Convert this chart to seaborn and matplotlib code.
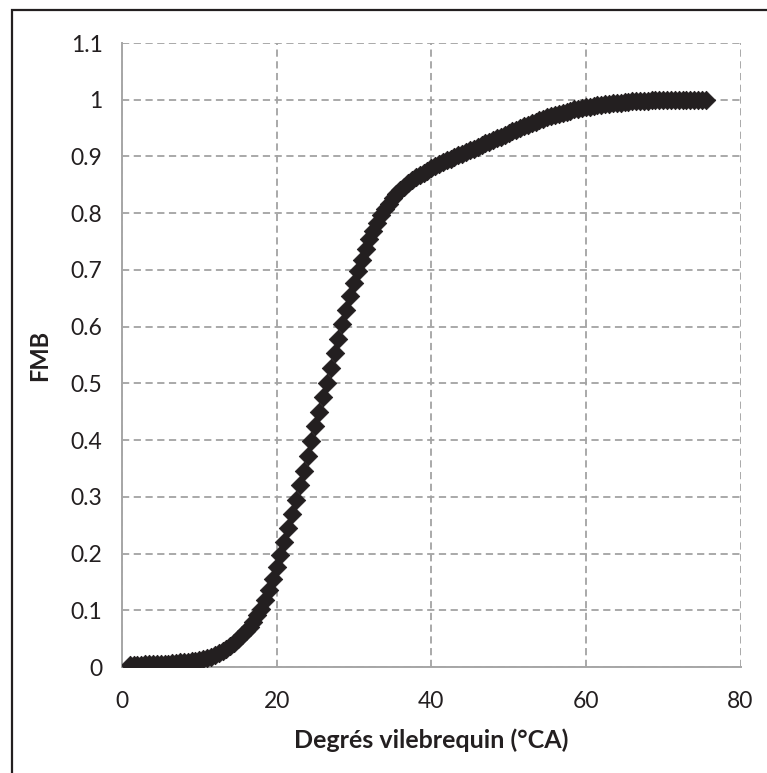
import matplotlib
matplotlib.use("Agg")
import matplotlib.pyplot as plt
from matplotlib.patches import Rectangle
import seaborn as sns
import pandas as pd

# Crank angle (degrees) and mass fraction burned
crank_angle = [
    1.0, 1.5, 2.0, 2.5, 3.0, 3.5, 4.0, 4.5, 5.0, 5.5,
    6.0, 6.5, 7.0, 7.5, 8.0, 8.5, 9.0, 9.5, 10.0, 10.5,
    11.0, 11.5, 12.0, 12.5, 13.0, 13.5, 14.0, 14.5, 15.0, 15.5,
    16.0, 16.5, 17.0, 17.5, 18.0, 18.5, 19.0, 19.5, 20.0, 20.5,
    21.0, 21.5, 22.0, 22.5, 23.0, 23.5, 24.0, 24.5, 25.0, 25.5,
    26.0, 26.5, 27.0, 27.5, 28.0, 28.5, 29.0, 29.5, 30.0, 30.5,
    31.0, 31.5, 32.0, 32.5, 33.0, 33.5, 34.0, 34.5, 35.0, 35.5,
    36.0, 36.5, 37.0, 37.5, 38.0, 38.5, 39.0, 39.5, 40.0, 40.5,
    41.0, 41.5, 42.0, 42.5, 43.0, 43.5, 44.0, 44.5, 45.0, 45.5,
    46.0, 46.5, 47.0, 47.5, 48.0, 48.5, 49.0, 49.5, 50.0, 50.5,
    51.0, 51.5, 52.0, 52.5, 53.0, 53.5, 54.0, 54.5, 55.0, 55.5,
    56.0, 56.5, 57.0, 57.5, 58.0, 58.5, 59.0, 59.5, 60.0, 60.5,
    61.0, 61.5, 62.0, 62.5, 63.0, 63.5, 64.0, 64.5, 65.0, 65.5,
    66.0, 66.5, 67.0, 67.5, 68.0, 68.5, 69.0, 69.5, 70.0, 70.5,
    71.0, 71.5, 72.0, 72.5, 73.0, 73.5, 74.0, 74.5, 75.0, 75.5,
]
fmb = [
    0.004, 0.004, 0.004, 0.004, 0.005, 0.005, 0.005, 0.005, 0.006, 0.006,
    0.006, 0.007, 0.007, 0.008, 0.008, 0.009, 0.010, 0.011, 0.012, 0.014,
    0.016, 0.018, 0.021, 0.024, 0.028, 0.032, 0.037, 0.043, 0.049, 0.056,
    0.063, 0.071, 0.080, 0.091, 0.103, 0.118, 0.135, 0.155, 0.176, 0.198,
    0.221, 0.245, 0.270, 0.295, 0.320, 0.346, 0.372, 0.398, 0.424, 0.450,
    0.476, 0.501, 0.527, 0.553, 0.579, 0.605, 0.630, 0.654, 0.677, 0.698,
    0.718, 0.737, 0.754, 0.769, 0.783, 0.796, 0.807, 0.817, 0.826, 0.834,
    0.841, 0.847, 0.853, 0.858, 0.863, 0.867, 0.871, 0.875, 0.879, 0.883,
    0.886, 0.890, 0.893, 0.896, 0.899, 0.902, 0.905, 0.908, 0.911, 0.914,
    0.917, 0.920, 0.923, 0.926, 0.929, 0.932, 0.935, 0.938, 0.941, 0.944,
    0.947, 0.950, 0.953, 0.956, 0.959, 0.961, 0.964, 0.966, 0.969, 0.971,
    0.973, 0.975, 0.977, 0.979, 0.981, 0.983, 0.984, 0.986, 0.987, 0.988,
    0.989, 0.990, 0.991, 0.992, 0.993, 0.994, 0.995, 0.995, 0.996, 0.996,
    0.997, 0.997, 0.998, 0.998, 0.998, 0.999, 0.999, 0.999, 1.000, 1.000,
    1.000, 1.000, 1.000, 1.000, 1.000, 1.000, 1.000, 1.000, 1.000, 1.000,
]
x_ticks = [0, 20, 40, 60, 80]
x_tick_labels = ["0", "20", "40", "60", "80"]
y_ticks = [0, 0.1, 0.2, 0.3, 0.4, 0.5, 0.6, 0.7, 0.8, 0.9, 1.0, 1.1]
y_tick_labels = ["0", "0.1", "0.2", "0.3", "0.4", "0.5", "0.6", "0.7", "0.8", "0.9", "1", "1.1"]
x_label = "Degrés vilebrequin (°CA)"
y_label = "FMB"

df = pd.DataFrame({"angle": crank_angle, "fmb": fmb})

sns.set_theme(style="white")
plt.rcParams["font.family"] = ["Lato", "DejaVu Sans"]

TEXT = "#231f20"
GRID = "#a3a3a3"
AXIS = "#a6a6a6"

fig = plt.figure(figsize=(7.67, 7.73), dpi=100)
ax = fig.add_axes([122 / 767, 1 - 667 / 773, (740.5 - 122) / 767, (667 - 43) / 773])

sns.scatterplot(data=df, x="angle", y="fmb", ax=ax, marker="D", s=88,
                color=TEXT, edgecolor=TEXT, linewidth=0.6, zorder=3, legend=False)

ax.set_xlim(0, 80)
ax.set_ylim(0, 1.1)
ax.set_xticks(x_ticks)
ax.set_xticklabels(x_tick_labels)
ax.set_yticks(y_ticks)
ax.set_yticklabels(y_tick_labels)

ax.grid(True, color=GRID, linestyle=(0, (4, 2.5)), linewidth=1.3, zorder=0)
ax.set_axisbelow(True)

for side in ["top", "right"]:
    ax.spines[side].set_visible(False)
for side in ["left", "bottom"]:
    ax.spines[side].set_color(AXIS)
    ax.spines[side].set_linewidth(1.4)

ax.tick_params(axis="both", which="major", direction="out", length=5, width=1.2,
               color=AXIS, labelsize=16.5, labelcolor=TEXT)
ax.tick_params(axis="x", pad=12)
ax.tick_params(axis="y", pad=9)

ax.set_xlabel(x_label, fontsize=18, fontweight="bold", color=TEXT, labelpad=12)
ax.set_ylabel(y_label, fontsize=17, fontweight="bold", color=TEXT, labelpad=14)

# outer chart-area frame (clipped at right and bottom as in the reference)
fig.add_artist(Rectangle((12 / 767, -0.5), 2.0, 0.5 + (1 - 10 / 773),
                         transform=fig.transFigure, fill=False,
                         edgecolor=TEXT, linewidth=1.6, clip_on=False))

fig.savefig("out.png", dpi=100)
